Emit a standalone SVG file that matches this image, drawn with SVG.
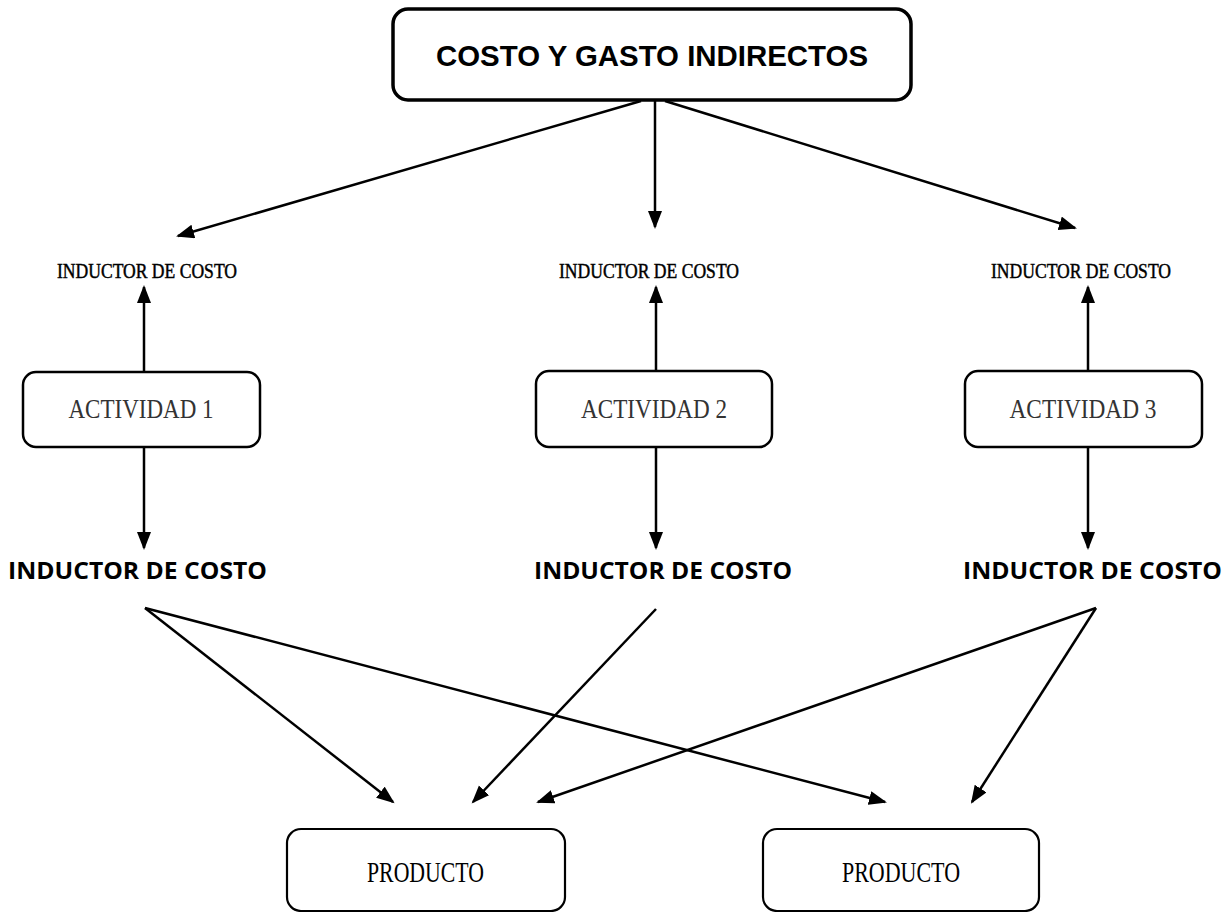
<svg xmlns="http://www.w3.org/2000/svg" width="1232" height="912" viewBox="0 0 1232 912">
<style>
.box{fill:#fff;stroke:#000}
.title{font-family:"Liberation Sans",Arial,sans-serif;font-weight:bold;font-size:29.5px;fill:#000}
.small{font-family:"Liberation Serif","Noto Sans CJK SC",serif;font-size:20px;fill:#000;stroke:#000;stroke-width:0.45}
.act{font-family:"Liberation Serif","Noto Sans CJK SC",serif;font-size:27px;fill:#333}
.bold{font-family:"Open Sans","Liberation Sans",sans-serif;font-weight:bold;font-size:23px;fill:#000}
.prod{font-family:"Liberation Serif","Noto Sans CJK SC",serif;font-size:30px;fill:#000}
.conn line{stroke:#000;stroke-width:2.5;marker-end:url(#ah)}
</style>
<defs>
<marker id="ah" markerUnits="userSpaceOnUse" markerWidth="19" markerHeight="15" refX="16" refY="7" orient="auto">
<path d="M0,0 L18,7 L0,14 z" fill="#000"/>
</marker>
</defs>
<rect width="1232" height="912" fill="#fff"/>

<g id="connectors" class="conn">
<line x1="641" y1="101" x2="178" y2="236"/>
<line x1="655" y1="101" x2="655" y2="227"/>
<line x1="665" y1="101" x2="1075" y2="228"/>
<line x1="144" y1="372" x2="144" y2="287"/>
<line x1="656" y1="371" x2="656" y2="287"/>
<line x1="1088" y1="371" x2="1088" y2="287"/>
<line x1="144" y1="447" x2="144" y2="548"/>
<line x1="656" y1="447" x2="656" y2="548"/>
<line x1="1088" y1="447" x2="1088" y2="548"/>
<line x1="145" y1="608" x2="393" y2="802"/>
<line x1="145" y1="608" x2="885" y2="802"/>
<line x1="656" y1="609" x2="473" y2="802"/>
<line x1="1096" y1="608" x2="538" y2="802"/>
<line x1="1096" y1="608" x2="972" y2="802"/>
</g>

<g id="top">
<rect class="box" x="393" y="9" width="518" height="91" rx="15" stroke-width="3.5"/>
<text class="title" x="652" y="66" text-anchor="middle" textLength="432" lengthAdjust="spacingAndGlyphs">COSTO Y GASTO INDIRECTOS</text>
</g>

<g id="ind-top-1"><text class="small" x="147" y="278" text-anchor="middle" textLength="180" lengthAdjust="spacingAndGlyphs">INDUCTOR DE COSTO</text></g>
<g id="ind-top-2"><text class="small" x="649" y="278" text-anchor="middle" textLength="180" lengthAdjust="spacingAndGlyphs">INDUCTOR DE COSTO</text></g>
<g id="ind-top-3"><text class="small" x="1081" y="278" text-anchor="middle" textLength="180" lengthAdjust="spacingAndGlyphs">INDUCTOR DE COSTO</text></g>

<g id="act-1">
<rect class="box" x="23" y="372" width="237" height="75" rx="13" stroke-width="2.5"/>
<text class="act" x="141" y="418" text-anchor="middle" textLength="145" lengthAdjust="spacingAndGlyphs">ACTIVIDAD 1</text>
</g>
<g id="act-2">
<rect class="box" x="536" y="371" width="236" height="76" rx="13" stroke-width="2.5"/>
<text class="act" x="654" y="418" text-anchor="middle" textLength="146" lengthAdjust="spacingAndGlyphs">ACTIVIDAD 2</text>
</g>
<g id="act-3">
<rect class="box" x="965" y="371" width="237" height="76" rx="13" stroke-width="2.5"/>
<text class="act" x="1083" y="418" text-anchor="middle" textLength="147" lengthAdjust="spacingAndGlyphs">ACTIVIDAD 3</text>
</g>

<g id="ind-bot-1"><text class="bold" x="137.5" y="579" text-anchor="middle" textLength="259" lengthAdjust="spacingAndGlyphs">INDUCTOR DE COSTO</text></g>
<g id="ind-bot-2"><text class="bold" x="663" y="579" text-anchor="middle" textLength="258" lengthAdjust="spacingAndGlyphs">INDUCTOR DE COSTO</text></g>
<g id="ind-bot-3"><text class="bold" x="1092.5" y="579" text-anchor="middle" textLength="259" lengthAdjust="spacingAndGlyphs">INDUCTOR DE COSTO</text></g>

<g id="prod-1">
<rect class="box" x="287" y="829" width="278" height="82" rx="14" stroke-width="2.2"/>
<text class="prod" x="425.5" y="882" text-anchor="middle" textLength="117" lengthAdjust="spacingAndGlyphs">PRODUCTO</text>
</g>
<g id="prod-2">
<rect class="box" x="763" y="829" width="276" height="82" rx="14" stroke-width="2.2"/>
<text class="prod" x="901" y="882" text-anchor="middle" textLength="118" lengthAdjust="spacingAndGlyphs">PRODUCTO</text>
</g>
</svg>
